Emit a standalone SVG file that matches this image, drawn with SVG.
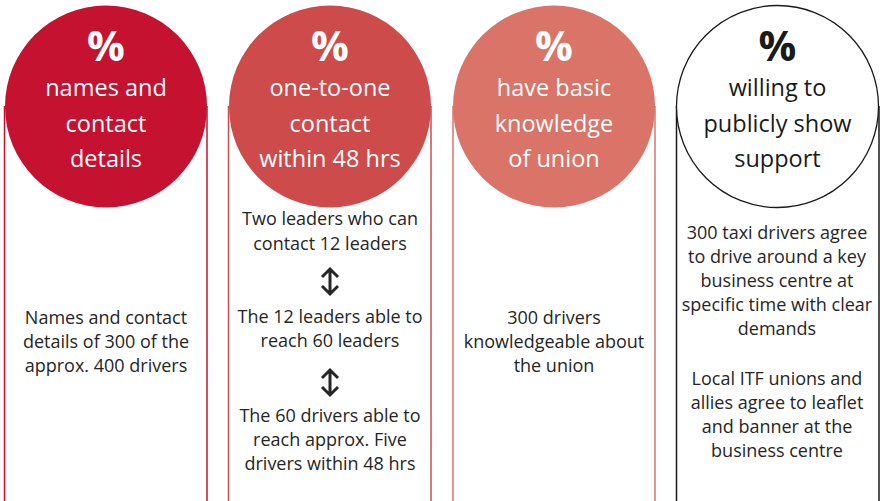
<svg xmlns="http://www.w3.org/2000/svg" width="883" height="501" viewBox="0 0 883 501">
<style>
.pct{font-family:"Open Sans","Liberation Sans",sans-serif;font-weight:bold;font-size:42px;text-anchor:middle}
.ttl{font-family:"Open Sans","Liberation Sans",sans-serif;font-size:23.5px;text-anchor:middle}
.body{font-family:"Open Sans","Liberation Sans",sans-serif;font-size:18px;text-anchor:middle;fill:#262626}
.w{fill:#ffffff}
.k{fill:#1a1a1a}
.arrow{fill:none;stroke:#262626;stroke-width:3;stroke-linecap:butt;stroke-linejoin:miter}
</style>
<rect width="883" height="501" fill="#ffffff"/>
<g id="connectors">
<line x1="4.5" y1="106" x2="4.5" y2="501" stroke="#C8102E" stroke-width="1.5"/>
<line x1="207" y1="106" x2="207" y2="501" stroke="#C8102E" stroke-width="1.5"/>
<line x1="228.5" y1="106" x2="228.5" y2="501" stroke="#CD4B4B" stroke-width="1.5"/>
<line x1="431" y1="106" x2="431" y2="501" stroke="#CD4B4B" stroke-width="1.5"/>
<line x1="453" y1="106" x2="453" y2="501" stroke="#DA7468" stroke-width="1.5"/>
<line x1="655" y1="106" x2="655" y2="501" stroke="#DA7468" stroke-width="1.5"/>
<line x1="676.5" y1="106" x2="676.5" y2="501" stroke="#1a1a1a" stroke-width="1.5"/>
<line x1="879" y1="106" x2="879" y2="501" stroke="#1a1a1a" stroke-width="1.5"/>
</g>
<g id="node1">
<circle cx="106" cy="106.5" r="101" fill="#C41230"/>
<text class="pct w" x="106" y="61">%</text>
<text class="ttl w" x="106" y="96">names and</text>
<text class="ttl w" x="106" y="131.5">contact</text>
<text class="ttl w" x="106" y="166.5">details</text>
<text class="body" x="106" y="324">Names and contact</text>
<text class="body" x="106" y="348">details of 300 of the</text>
<text class="body" x="106" y="372">approx. 400 drivers</text>
</g>
<g id="node2">
<circle cx="330" cy="106.5" r="101" fill="#CD4B4B"/>
<text class="pct w" x="330" y="61">%</text>
<text class="ttl w" x="330" y="96">one-to-one</text>
<text class="ttl w" x="330" y="131.5">contact</text>
<text class="ttl w" x="330" y="166.5">within 48 hrs</text>
<text class="body" x="330" y="225">Two leaders who can</text>
<text class="body" x="330" y="250">contact 12 leaders</text>
<path class="arrow" d="M330 269 V294 M322 277 L330 269 L338 277 M322 286 L330 294 L338 286"/>
<text class="body" x="330" y="323">The 12 leaders able to</text>
<text class="body" x="330" y="347">reach 60 leaders</text>
<path class="arrow" d="M330 370 V395 M322 378 L330 370 L338 378 M322 387 L330 395 L338 387"/>
<text class="body" x="330" y="421.5">The 60 drivers able to</text>
<text class="body" x="330" y="446">reach approx. Five</text>
<text class="body" x="330" y="469.5">drivers within 48 hrs</text>
</g>
<g id="node3">
<circle cx="554" cy="106.5" r="101" fill="#DA7468"/>
<text class="pct w" x="554" y="61">%</text>
<text class="ttl w" x="554" y="96">have basic</text>
<text class="ttl w" x="554" y="131.5">knowledge</text>
<text class="ttl w" x="554" y="166.5">of union</text>
<text class="body" x="554" y="324">300 drivers</text>
<text class="body" x="554" y="348">knowledgeable about</text>
<text class="body" x="554" y="372">the union</text>
</g>
<g id="node4">
<circle cx="777.5" cy="106.5" r="101" fill="#ffffff" stroke="#1a1a1a" stroke-width="1.3"/>
<text class="pct k" x="777.5" y="61">%</text>
<text class="ttl k" x="777.5" y="96">willing to</text>
<text class="ttl k" x="777.5" y="131.5">publicly show</text>
<text class="ttl k" x="777.5" y="166.5">support</text>
<text class="body" x="777" y="238.5">300 taxi drivers agree</text>
<text class="body" x="777" y="262.5">to drive around a key</text>
<text class="body" x="777" y="286.5">business centre at</text>
<text class="body" x="777" y="310.5">specific time with clear</text>
<text class="body" x="777" y="335">demands</text>
<text class="body" x="777" y="385">Local ITF unions and</text>
<text class="body" x="777" y="409">allies agree to leaflet</text>
<text class="body" x="777" y="433">and banner at the</text>
<text class="body" x="777" y="457">business centre</text>
</g>
</svg>
